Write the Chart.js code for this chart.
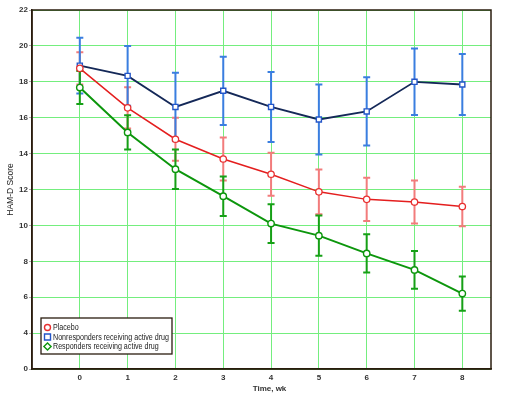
<!DOCTYPE html>
<html><head><meta charset="utf-8">
<script src="https://cdn.jsdelivr.net/npm/chart.js@4.4.1/dist/chart.umd.min.js"></script>
<style>html,body{margin:0;padding:0;background:#fff}#wrap{width:520px;height:398px}</style>
</head><body><div id="wrap"><canvas id="c" width="520" height="398"></canvas></div>
<script>
const weeks = [0, 1, 2, 3, 4, 5, 6, 7, 8];
const seriesLabels = ['Placebo', 'Nonresponders receiving active drug', 'Responders receiving active drug'];
const placeboMean = [18.75, 16.55, 14.8, 13.7, 12.85, 11.87, 11.45, 11.3, 11.05];
const placeboErr  = [0.9, 1.15, 1.2, 1.2, 1.2, 1.25, 1.2, 1.2, 1.1];
const nonrespMean = [18.9, 18.33, 16.6, 17.5, 16.6, 15.9, 16.35, 18.0, 17.85];
const nonrespErr  = [1.55, 1.67, 1.9, 1.9, 1.95, 1.95, 1.9, 1.85, 1.7];
const respMean    = [17.68, 15.18, 13.13, 11.63, 10.1, 9.43, 8.44, 7.52, 6.2];
const respErr     = [0.92, 0.95, 1.1, 1.1, 1.08, 1.12, 1.07, 1.05, 0.95];
const yTickValues = [2, 4, 6, 8, 10, 12, 14, 16, 18, 20, 22];
const yTickLabels = ['0', '4', '6', '8', '10', '12', '14', '16', '18', '20', '22'];
const xTickLabels = ['0', '1', '2', '3', '4', '5', '6', '7', '8'];

const FONT = "'Liberation Sans', Arial, sans-serif";
const DARK = '#2a1c0e';
const GRID = '#74ee7e';

function pts(means) { return weeks.map((w, i) => ({ x: w, y: means[i] })); }

const datasets = [
  { label: seriesLabels[0], data: pts(placeboMean), errs: placeboErr, errColor: '#f27c7c', legendStyle: 'circle',
    borderColor: '#e41e1e', borderWidth: 1.5, pointStyle: 'circle', pointRadius: 3.2, pointBorderColor: '#e83030',
    pointBackgroundColor: '#ffffff', pointBorderWidth: 1.3, tension: 0 },
  { label: seriesLabels[1], data: pts(nonrespMean), errs: nonrespErr, errColor: '#3a7ee0', legendStyle: 'rect',
    borderColor: '#142858', borderWidth: 1.8, pointStyle: 'rect', pointRadius: 3.6, pointBorderColor: '#2456c8',
    pointBackgroundColor: '#ffffff', pointBorderWidth: 1.4, tension: 0 },
  { label: seriesLabels[2], data: pts(respMean), errs: respErr, errColor: '#16a016', legendStyle: 'rectRot',
    borderColor: '#0c960c', borderWidth: 2, pointStyle: 'circle', pointRadius: 3.2, pointBorderColor: '#0c960c',
    pointBackgroundColor: '#ffffff', pointBorderWidth: 1.4, tension: 0 }
];

const errorBars = {
  id: 'errorBars',
  beforeDatasetsDraw(chart) {
    const ctx = chart.ctx, xs = chart.scales.x, ys = chart.scales.y;
    ctx.save();
    chart.data.datasets.forEach(ds => {
      ctx.strokeStyle = ds.errColor;
      ctx.lineWidth = 2;
      ds.data.forEach((p, j) => {
        const x = xs.getPixelForValue(p.x);
        const t = ys.getPixelForValue(p.y + ds.errs[j]);
        const b = ys.getPixelForValue(p.y - ds.errs[j]);
        ctx.beginPath();
        ctx.moveTo(x, t); ctx.lineTo(x, b);
        ctx.moveTo(x - 3.5, t); ctx.lineTo(x + 3.5, t);
        ctx.moveTo(x - 3.5, b); ctx.lineTo(x + 3.5, b);
        ctx.stroke();
      });
    });
    ctx.restore();
  }
};

function marker(ctx, style, color, x, y) {
  ctx.save();
  ctx.strokeStyle = color; ctx.fillStyle = '#fff'; ctx.lineWidth = 1.4;
  ctx.beginPath();
  if (style === 'circle') ctx.arc(x, y, 3, 0, Math.PI * 2);
  else if (style === 'rect') ctx.rect(x - 3, y - 3, 6, 6);
  else { ctx.moveTo(x, y - 3.6); ctx.lineTo(x + 3.6, y); ctx.lineTo(x, y + 3.6); ctx.lineTo(x - 3.6, y); ctx.closePath(); }
  ctx.fill(); ctx.stroke();
  ctx.restore();
}

const frameAndLegend = {
  id: 'frameAndLegend',
  afterDraw(chart) {
    const ctx = chart.ctx, a = chart.chartArea;
    ctx.save();
    ctx.strokeStyle = DARK; ctx.lineWidth = 1.5;
    ctx.strokeRect(a.left, a.top, a.right - a.left, a.bottom - a.top);
    // legend box
    const lx = a.left + 9, ly = a.bottom - 51, lw = 131, lh = 36;
    ctx.fillStyle = '#fff';
    ctx.fillRect(lx, ly, lw, lh);
    ctx.lineWidth = 1.3; ctx.strokeStyle = DARK;
    ctx.strokeRect(lx, ly, lw, lh);
    chart.data.datasets.forEach((ds, i) => {
      const y = ly + 9.5 + i * 9.5;
      marker(ctx, ds.legendStyle, ds.pointBorderColor, lx + 6.5, y);
      ctx.save();
      ctx.translate(lx + 12, y + 0.5);
      ctx.scale(0.87, 1);
      ctx.font = '8.2px ' + FONT;
      ctx.textBaseline = 'middle'; ctx.textAlign = 'left';
      ctx.fillStyle = '#222';
      ctx.fillText(ds.label, 0, 0);
      ctx.restore();
    });
    // x axis title
    ctx.font = 'bold 8px ' + FONT;
    ctx.textAlign = 'center';
    ctx.textBaseline = 'alphabetic';
    ctx.fillStyle = '#333';
    ctx.fillText('Time, wk', (a.left + a.right) / 2 + 8, 391);
    ctx.restore();
  }
};

new Chart(document.getElementById('c'), {
  type: 'line',
  data: { datasets },
  options: {
    responsive: false, animation: false, devicePixelRatio: 1,
    layout: { padding: { top: 10, right: 29, left: 0, bottom: 0 } },
    plugins: { legend: { display: false }, tooltip: { enabled: false } },
    scales: {
      x: {
        type: 'linear', min: -1, max: 8.6,
        afterBuildTicks: s => { s.ticks = weeks.map(v => ({ value: v })); },
        afterFit: s => { s.height = 29; },
        grid: { color: GRID, lineWidth: 1, drawTicks: false },
        border: { color: DARK, width: 1.5 },
        ticks: { color: '#333', padding: 4, font: { family: FONT, size: 8, weight: 'bold' },
          callback: (v) => xTickLabels[weeks.indexOf(v)] },
        title: { display: false }
      },
      y: {
        min: 2, max: 22,
        afterBuildTicks: s => { s.ticks = yTickValues.map(v => ({ value: v })); },
        afterFit: s => { s.width = 32; },
        grid: { color: GRID, lineWidth: 1, tickColor: '#aaa', tickLength: 3 },
        border: { color: DARK, width: 1.5 },
        ticks: { color: '#333', padding: 1, font: { family: FONT, size: 8, weight: 'bold' },
          callback: (v) => yTickLabels[yTickValues.indexOf(v)] },
        title: { display: true, text: 'HAM-D Score', color: '#222', font: { family: FONT, size: 8.5 }, padding: { top: 6, bottom: 0 } }
      }
    }
  },
  plugins: [errorBars, frameAndLegend]
});
</script></body></html>
